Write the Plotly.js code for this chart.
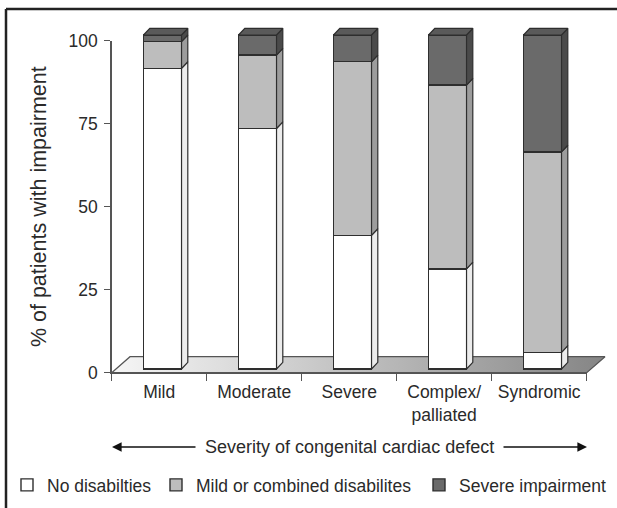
<!DOCTYPE html>
<html>
<head>
<meta charset="utf-8">
<script src="https://cdn.plot.ly/plotly-3.0.1.min.js"></script>
<style>
  html, body { margin: 0; padding: 0; background: #ffffff; }
  #chart { width: 617px; height: 508px; }
</style>
</head>
<body>
<div id="chart"></div>
<script>
// ---- data ----
const categories = ["Mild", "Moderate", "Severe", "Complex/<br>palliated", "Syndromic"];
const noDisabilities = [90, 72, 40, 30, 5];
const mildCombined = [8, 22, 52, 55, 60];
const severeImpairment = [2, 6, 8, 15, 35];
const seriesNames = ["No disabilties", "Mild or combined disabilites", "Severe impairment"];
const yTickVals = [0, 25, 50, 75, 100];
const yTitle = "% of patients with impairment";
const xCaption = "Severity of congenital cardiac defect";

// ---- styles ----
const FONT = "Liberation Sans, Arial, Helvetica, sans-serif";
const TXT = "#2a2a2a";
const EDGE = "#2e2e2e";
const frontColors = ["#ffffff", "#bdbdbd", "#6a6a6a"];
const sideColors = ["#ececec", "#9c9c9c", "#4a4a4a"];
const capColor = "#5a5a5a";

const W = 617, H = 508;
const xd = (a, b) => [a / W, b / W];
const yd = (top, bottom) => [1 - bottom / H, 1 - top / H];

// visible axes frame (px)
const AX = {left: 111.7, right: 586.7, top: 40.7, bottom: 372.7};
const catPx = (AX.right - AX.left) / categories.length; // px per category
// 3D drawing subplot (px)
const D = {left: 95, right: 617, top: 12, bottom: 392};
const bar0 = 369, pxPerUnit = 3.34; // front face zero line & scale
const x2range = [(D.left - AX.left) / catPx - 0.5, (D.right - AX.left) / catPx - 0.5];
const y2range = [(bar0 - D.bottom) / pxPerUnit, (bar0 - D.top) / pxPerUnit];

const barWidth = 0.4, barOffset = -0.165;
const depthX = 0.066, depthY = 2.0;

const idx = categories.map((c, i) => i);
const series = [noDisabilities, mildCombined, severeImpairment];

const traces = [];

// dummy trace to register categories on visible axis
traces.push({
  type: "scatter", x: categories, y: noDisabilities, xaxis: "x", yaxis: "y",
  mode: "markers", marker: {opacity: 0}, showlegend: false, hoverinfo: "skip"
});

// floor (decorative)
const n = categories.length;
const fy0 = -(AX.bottom - bar0) / pxPerUnit;
const fy1 = fy0 + 16 / pxPerUnit;
const fdx = 18.3 / catPx;
traces.push({
  type: "scatter", xaxis: "x2", yaxis: "y2",
  x: [-0.5, n - 0.5, n - 0.5 + fdx, -0.5 + fdx, -0.5],
  y: [fy0, fy0, fy1, fy1, fy0],
  mode: "lines", fill: "toself",
  fillgradient: {type: "horizontal", colorscale: [[0, "#f6f6f6"], [0.3, "#d6d6d6"], [1, "#858585"]]},
  line: {color: "#555555", width: 1.2},
  showlegend: false, hoverinfo: "skip"
});

// stacked bars (front faces)
const legendIds = ["legend", "legend2", "legend3"];
series.forEach((vals, s) => {
  traces.push({
    type: "bar", xaxis: "x3", yaxis: "y3",
    x: idx, y: vals, name: seriesNames[s],
    width: barWidth, offset: barOffset,
    marker: {color: frontColors[s], line: {color: EDGE, width: 1.4}},
    legend: legendIds[s], hoverinfo: "skip"
  });
});

// side faces per segment
series.forEach((vals, s) => {
  const xs = [], ys = [];
  idx.forEach(i => {
    let b = 0;
    for (let k = 0; k < s; k++) b += series[k][i];
    const t = b + vals[i];
    const r = i + barOffset + barWidth;
    xs.push(r, r + depthX, r + depthX, r, r, null);
    ys.push(b, b + depthY, t + depthY, t, b, null);
  });
  traces.push({
    type: "scatter", xaxis: "x3", yaxis: "y3", x: xs, y: ys,
    mode: "lines", fill: "toself", fillcolor: sideColors[s],
    line: {color: EDGE, width: 1.2}, showlegend: false, hoverinfo: "skip"
  });
});

// top caps
{
  const xs = [], ys = [];
  idx.forEach(i => {
    const T = series.reduce((acc, sv) => acc + sv[i], 0);
    const l = i + barOffset, r = l + barWidth;
    xs.push(l, l + depthX, r + depthX, r, l, null);
    ys.push(T, T + depthY, T + depthY, T, T, null);
  });
  traces.push({
    type: "scatter", xaxis: "x3", yaxis: "y3", x: xs, y: ys,
    mode: "lines", fill: "toself", fillcolor: capColor,
    line: {color: EDGE, width: 1.2}, showlegend: false, hoverinfo: "skip"
  });
}

const legendFont = {family: FONT, size: 17.5, color: TXT};
const legY = 1 - 485 / H;
const mkLegend = (px) => ({
  x: px / W, xanchor: "left", y: legY, yanchor: "middle",
  orientation: "h", font: legendFont, bgcolor: "rgba(0,0,0,0)", borderwidth: 0
});

const layout = {
  width: W, height: H,
  margin: {l: 0, r: 0, t: 0, b: 0, pad: 0},
  paper_bgcolor: "#ffffff", plot_bgcolor: "rgba(0,0,0,0)",
  font: {family: FONT, color: TXT},
  barmode: "stack",
  showlegend: true,
  legend: mkLegend(7),
  legend2: mkLegend(156),
  legend3: mkLegend(419),
  xaxis: {
    domain: xd(AX.left, AX.right), anchor: "y",
    type: "category", categoryorder: "array", categoryarray: categories,
    range: [-0.5, n - 0.5], tickson: "boundaries",
    ticks: "outside", ticklen: 7, tickwidth: 1.5, tickcolor: "#555555",
    showline: true, linecolor: "#555555", linewidth: 1.5,
    showgrid: false, zeroline: false, ticklabelstandoff: 3,
    tickfont: {family: FONT, size: 17.5, color: TXT}, fixedrange: true
  },
  yaxis: {
    domain: yd(AX.top, AX.bottom), anchor: "x",
    range: [0, 100], tickmode: "array", tickvals: yTickVals,
    ticks: "outside", ticklen: 6, tickwidth: 1.5, tickcolor: "#555555",
    showline: true, linecolor: "#555555", linewidth: 1.5,
    showgrid: false, zeroline: false, ticklabelstandoff: 3,
    tickfont: {family: FONT, size: 17.5, color: TXT},
    title: {text: yTitle, font: {family: FONT, size: 21.5, color: TXT}, standoff: 16},
    fixedrange: true
  },
  xaxis2: {domain: xd(D.left, D.right), anchor: "y2", range: x2range, visible: false, fixedrange: true},
  yaxis2: {domain: yd(D.top, D.bottom), anchor: "x2", range: y2range, visible: false, fixedrange: true},
  xaxis3: {overlaying: "x2", anchor: "y3", range: x2range, visible: false, fixedrange: true},
  yaxis3: {overlaying: "y2", anchor: "x3", range: y2range, visible: false, fixedrange: true},
  shapes: [
    {type: "line", xref: "paper", yref: "paper", x0: 6 / W, x1: 1.05, y0: 1 - 9 / H, y1: 1 - 9 / H,
     line: {color: "#222222", width: 2.5}},
    {type: "line", xref: "paper", yref: "paper", x0: 6 / W, x1: 6 / W, y0: 1 - 9 / H, y1: -0.05,
     line: {color: "#222222", width: 2.5}}
  ],
  annotations: [
    {xref: "paper", yref: "paper", x: 349.5 / W, y: 1 - 447 / H, text: xCaption, showarrow: false,
     font: {family: FONT, size: 18, color: TXT}, xanchor: "center", yanchor: "middle"},
    {xref: "paper", yref: "paper", x: 112 / W, y: 1 - 447 / H, text: "", showarrow: true,
     ax: 85, ay: 0, arrowhead: 2, arrowsize: 1.2, arrowwidth: 1.6, arrowcolor: "#111111", standoff: 0},
    {xref: "paper", yref: "paper", x: 587 / W, y: 1 - 447 / H, text: "", showarrow: true,
     ax: -85, ay: 0, arrowhead: 2, arrowsize: 1.2, arrowwidth: 1.6, arrowcolor: "#111111", standoff: 0}
  ]
};

Plotly.newPlot("chart", traces, layout, {staticPlot: true, displayModeBar: false});
</script>
</body>
</html>
